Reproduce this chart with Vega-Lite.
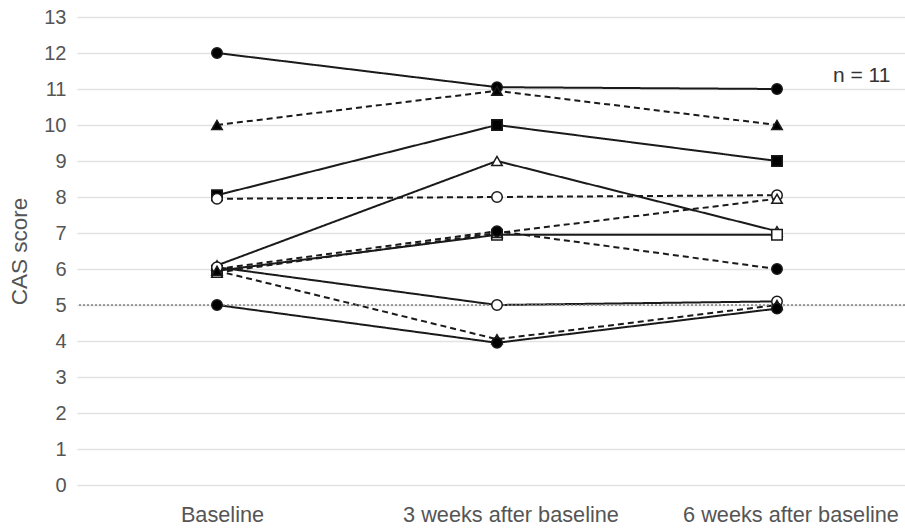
{
  "$schema": "https://vega.github.io/schema/vega-lite/v6.json",
  "width": 828,
  "height": 468,
  "autosize": "none",
  "padding": {"left": 77, "top": 17, "right": 0, "bottom": 43},
  "background": "white",
  "config": {
    "view": {"stroke": null},
    "font": "Liberation Sans"
  },
  "datasets": {
    "scores": [
      {"id": "p1", "week": 0, "score": 12, "shape": "circle", "fill": "black", "dash": "solid"},
      {"id": "p1", "week": 3, "score": 11.05, "shape": "circle", "fill": "black", "dash": "solid"},
      {"id": "p1", "week": 6, "score": 11, "shape": "circle", "fill": "black", "dash": "solid"},
      {"id": "p2", "week": 0, "score": 10, "shape": "triangle-up", "fill": "black", "dash": "dashed"},
      {"id": "p2", "week": 3, "score": 10.95, "shape": "triangle-up", "fill": "black", "dash": "dashed"},
      {"id": "p2", "week": 6, "score": 10, "shape": "triangle-up", "fill": "black", "dash": "dashed"},
      {"id": "p3", "week": 0, "score": 8.05, "shape": "square", "fill": "black", "dash": "solid"},
      {"id": "p3", "week": 3, "score": 10, "shape": "square", "fill": "black", "dash": "solid"},
      {"id": "p3", "week": 6, "score": 9, "shape": "square", "fill": "black", "dash": "solid"},
      {"id": "p4", "week": 0, "score": 7.95, "shape": "circle", "fill": "white", "dash": "dashed"},
      {"id": "p4", "week": 3, "score": 8, "shape": "circle", "fill": "white", "dash": "dashed"},
      {"id": "p4", "week": 6, "score": 8.05, "shape": "circle", "fill": "white", "dash": "dashed"},
      {"id": "p5", "week": 0, "score": 6.1, "shape": "triangle-up", "fill": "white", "dash": "solid"},
      {"id": "p5", "week": 3, "score": 9, "shape": "triangle-up", "fill": "white", "dash": "solid"},
      {"id": "p5", "week": 6, "score": 7.05, "shape": "triangle-up", "fill": "white", "dash": "solid"},
      {"id": "p6", "week": 0, "score": 5.95, "shape": "square", "fill": "white", "dash": "solid"},
      {"id": "p6", "week": 3, "score": 6.95, "shape": "square", "fill": "white", "dash": "solid"},
      {"id": "p6", "week": 6, "score": 6.95, "shape": "square", "fill": "white", "dash": "solid"},
      {"id": "p7", "week": 0, "score": 5.9, "shape": "triangle-up", "fill": "white", "dash": "dashed"},
      {"id": "p7", "week": 3, "score": 7, "shape": "triangle-up", "fill": "white", "dash": "dashed"},
      {"id": "p7", "week": 6, "score": 7.95, "shape": "triangle-up", "fill": "white", "dash": "dashed"},
      {"id": "p8", "week": 0, "score": 6, "shape": "circle", "fill": "black", "dash": "dashed"},
      {"id": "p8", "week": 3, "score": 7.05, "shape": "circle", "fill": "black", "dash": "dashed"},
      {"id": "p8", "week": 6, "score": 6, "shape": "circle", "fill": "black", "dash": "dashed"},
      {"id": "p9", "week": 0, "score": 6.05, "shape": "circle", "fill": "white", "dash": "solid"},
      {"id": "p9", "week": 3, "score": 5, "shape": "circle", "fill": "white", "dash": "solid"},
      {"id": "p9", "week": 6, "score": 5.1, "shape": "circle", "fill": "white", "dash": "solid"},
      {"id": "p10", "week": 0, "score": 5.95, "shape": "triangle-up", "fill": "black", "dash": "dashed"},
      {"id": "p10", "week": 3, "score": 4.05, "shape": "triangle-up", "fill": "black", "dash": "dashed"},
      {"id": "p10", "week": 6, "score": 5, "shape": "triangle-up", "fill": "black", "dash": "dashed"},
      {"id": "p11", "week": 0, "score": 5, "shape": "circle", "fill": "black", "dash": "solid"},
      {"id": "p11", "week": 3, "score": 3.95, "shape": "circle", "fill": "black", "dash": "solid"},
      {"id": "p11", "week": 6, "score": 4.9, "shape": "circle", "fill": "black", "dash": "solid"}
    ],
    "note": [
      {"week": 6, "score": 11.35, "label": "n = 11"}
    ],
    "threshold": [
      {"score": 5}
    ]
  },
  "layer": [
    {
      "data": {"name": "scores"},
      "mark": {"type": "line", "color": "#1a1a1a", "strokeWidth": 2},
      "encoding": {
        "x": {
          "field": "week", "type": "quantitative",
          "scale": {"domain": [-1.5, 7.3714], "nice": false, "zero": false},
          "axis": {
            "title": null, "domain": false, "ticks": false, "grid": false,
            "values": [0, 3, 6],
            "labelExpr": "datum.value == 0 ? 'Baseline' : datum.value + ' weeks after baseline'",
            "labelFont": "Liberation Sans", "labelFontSize": 21.7, "labelColor": "#555555",
            "labelPadding": 19, "labelAngle": 0, "labelLimit": 0, "labelOverlap": false,
            "labelFlush": false,
            "labelOffset": {"condition": {"test": "datum.value == 0", "value": 5}, "value": 13.5}
          }
        },
        "y": {
          "field": "score", "type": "quantitative",
          "scale": {"domain": [0, 13], "nice": false},
          "axis": {
            "title": "CAS score", "titleFont": "Liberation Sans", "titleFontSize": 22.5,
            "titleFontWeight": "normal", "titleColor": "#555555", "titlePadding": 12,
            "values": [0,1,2,3,4,5,6,7,8,9,10,11,12,13],
            "tickCount": 30, "format": "d",
            "domain": false, "ticks": false, "grid": true,
            "gridColor": "#e2e2e2", "gridWidth": 1.5,
            "labelFont": "Liberation Sans", "labelFontSize": 20, "labelColor": "#555555",
            "labelPadding": 11, "labelOverlap": false, "labelFlush": false
          }
        },
        "detail": {"field": "id"},
        "strokeDash": {
          "field": "dash", "type": "nominal",
          "scale": {"domain": ["solid", "dashed"], "range": [[1, 0], [6, 4]]},
          "legend": null
        }
      }
    },
    {
      "data": {"name": "threshold"},
      "mark": {"type": "rule", "color": "#808080", "strokeWidth": 1.5, "strokeDash": [2, 2]},
      "encoding": {
        "y": {"field": "score", "type": "quantitative"}
      }
    },
    {
      "data": {"name": "scores"},
      "mark": {"type": "point", "filled": false, "stroke": "#1a1a1a", "strokeWidth": 1.5, "size": 110, "opacity": 1},
      "encoding": {
        "x": {"field": "week", "type": "quantitative"},
        "y": {"field": "score", "type": "quantitative"},
        "shape": {"field": "shape", "type": "nominal", "scale": null},
        "fill": {"field": "fill", "type": "nominal", "scale": null}
      }
    },
    {
      "data": {"name": "note"},
      "mark": {"type": "text", "align": "left", "dx": 56, "fontSize": 21, "font": "Liberation Sans", "color": "#333333", "baseline": "middle"},
      "encoding": {
        "x": {"field": "week", "type": "quantitative"},
        "y": {"field": "score", "type": "quantitative"},
        "text": {"field": "label"}
      }
    }
  ]
}
